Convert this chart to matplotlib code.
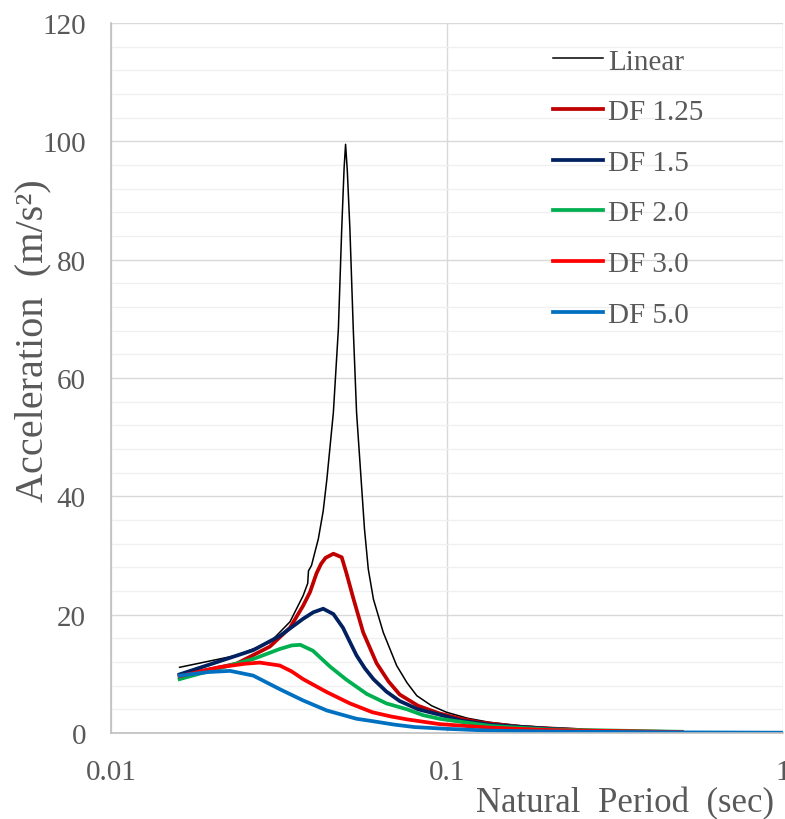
import numpy as np
import matplotlib
matplotlib.use("Agg")
from matplotlib import pyplot as plt
from matplotlib.ticker import FixedLocator, MultipleLocator, NullLocator


# values, period (sec) -> acceleration (m/s^2)
linear_t = [0.016, 0.0236, 0.0297, 0.0341, 0.0373, 0.0385, 0.0387, 0.0395, 0.0414,
            0.0428, 0.0439, 0.0459, 0.0475, 0.0486, 0.0494, 0.0499, 0.0505, 0.0514,
            0.0526, 0.0538, 0.0555, 0.0568, 0.0583, 0.0604, 0.0646, 0.0708, 0.0760,
            0.0813, 0.0900, 0.0997, 0.115, 0.134, 0.160, 0.189, 0.25, 0.5]
linear_a = [11.1, 13.1, 15.3, 18.8, 23.2, 25.3, 27.4, 28.3, 32.8,
            37.5, 42.9, 54.2, 68.3, 85.2, 95.5, 99.5, 95.0, 85.2,
            68.3, 54.2, 42.9, 34.5, 27.7, 22.6, 17.0, 11.4, 8.5,
            6.3, 4.6, 3.5, 2.5, 1.8, 1.3, 1.0, 0.6, 0.2]

df125_t = [0.016, 0.0236, 0.0297, 0.0341, 0.0373, 0.0391, 0.0409, 0.0422, 0.0435,
           0.0459, 0.0486, 0.0502, 0.0526, 0.0563, 0.0617, 0.0670, 0.0723, 0.082,
           0.095, 0.110, 0.125, 0.168, 0.25]
df125_a = [9.7, 11.7, 14.6, 17.8, 21.5, 23.8, 27.0, 28.6, 29.6,
           30.3, 29.7, 27.0, 22.8, 17.0, 11.8, 8.7, 6.5, 4.6,
           3.3, 2.4, 1.8, 1.0, 0.5]

df15_t = [0.016, 0.0265, 0.0318, 0.0373, 0.0400, 0.0428, 0.0459, 0.049, 0.052,
          0.0538, 0.0570, 0.0604, 0.0660, 0.0723, 0.082, 0.095, 0.110, 0.134,
          0.2, 0.25]
df15_a = [9.9, 14.0, 16.4, 19.3, 20.4, 21.0, 20.1, 17.8, 14.8,
          13.1, 10.9, 9.1, 7.0, 5.4, 4.0, 3.1, 2.1, 1.4,
          0.7, 0.5]

df20_t = [0.016, 0.0265, 0.0318, 0.0345, 0.0366, 0.0399, 0.0449, 0.0502, 0.0577,
          0.0660, 0.076, 0.085, 0.095, 0.134, 0.2, 0.5]
df20_a = [9.1, 12.5, 14.2, 14.8, 14.9, 13.9, 11.2, 9.0, 6.6,
          5.0, 4.0, 3.0, 2.4, 1.2, 0.6, 0.2]

df30_t = [0.016, 0.021, 0.0250, 0.0277, 0.0318, 0.0345, 0.0373, 0.0439, 0.0514,
          0.06, 0.068, 0.076, 0.095, 0.134, 0.2, 0.5]
df30_a = [9.6, 11.1, 11.7, 11.9, 11.4, 10.4, 9.1, 6.9, 5.0,
          3.5, 2.8, 2.3, 1.5, 0.9, 0.5, 0.15]

df50_t = [0.016, 0.0195, 0.0226, 0.0265, 0.0318, 0.0373, 0.0439, 0.0538, 0.06,
          0.07, 0.08, 0.1, 0.134, 0.2, 0.5, 1.0]
df50_a = [9.7, 10.3, 10.5, 9.7, 7.4, 5.5, 3.8, 2.4, 2.0,
          1.4, 1.0, 0.7, 0.4, 0.25, 0.1, 0.05]

labels = ["Linear", "DF 1.25", "DF 1.5", "DF 2.0", "DF 3.0", "DF 5.0"]
colors = ["#000000", "#C00000", "#002060", "#00B050", "#FF0000", "#0070C0"]
widths = [1.1, 2.7, 2.7, 2.7, 2.7, 2.7]

text_color = "#595959"


def main():
    plt.rcParams["font.family"] = ["Liberation Serif", "DejaVu Serif"]

    fig = plt.figure(figsize=(7.85, 8.2), dpi=100)
    ax = fig.add_axes([0.1414, 0.1049, 0.8561, 0.8658])

    series = [(linear_t, linear_a), (df125_t, df125_a), (df15_t, df15_a),
              (df20_t, df20_a), (df30_t, df30_a), (df50_t, df50_a)]
    for (t, a), lab, c, w in zip(series, labels, colors, widths):
        ax.plot(t, a, color=c, lw=w, label=lab, solid_joinstyle="round")

    ax.set_xscale("log")
    ax.set_xlim(0.01, 1)
    ax.set_ylim(0, 120)

    ax.xaxis.set_major_locator(FixedLocator([0.01, 0.1, 1]))
    ax.xaxis.set_minor_locator(NullLocator())
    ax.set_xticklabels(["0.01", "0.1", "1"])
    ax.yaxis.set_major_locator(MultipleLocator(20))
    ax.yaxis.set_minor_locator(MultipleLocator(4))

    ax.grid(which="major", color="#D9D9D9", lw=1.0)
    ax.grid(which="minor", axis="y", color="#F0F0F0", lw=1.0)
    ax.set_axisbelow(True)

    ax.tick_params(which="both", length=0, labelsize=21, colors=text_color)
    ax.tick_params(axis="x", pad=19)
    ax.tick_params(axis="y", pad=18)

    for side in ["top", "right"]:
        ax.spines[side].set_visible(False)
    for side in ["left", "bottom"]:
        ax.spines[side].set_color("#BFBFBF")
        ax.spines[side].set_linewidth(1.2)

    fig.text(0.796, 0.009, "Natural  Period  (sec)", fontsize=25,
             color=text_color, ha="center", va="baseline")
    fig.text(0.042, 0.585, "Acceleration  (m/s\u00b2)", fontsize=29,
             color=text_color, ha="center", va="center", rotation=90)

    leg = fig.legend(loc="upper left", bbox_to_anchor=(0.7045, 0.940),
                     frameon=False, fontsize=21, handlelength=1.71,
                     handletextpad=0.17, labelspacing=0.83,
                     borderpad=0, borderaxespad=0)
    for txt in leg.get_texts():
        txt.set_color(text_color)

    fig.savefig("out.png", dpi=100)


if __name__ == "__main__":
    main()
